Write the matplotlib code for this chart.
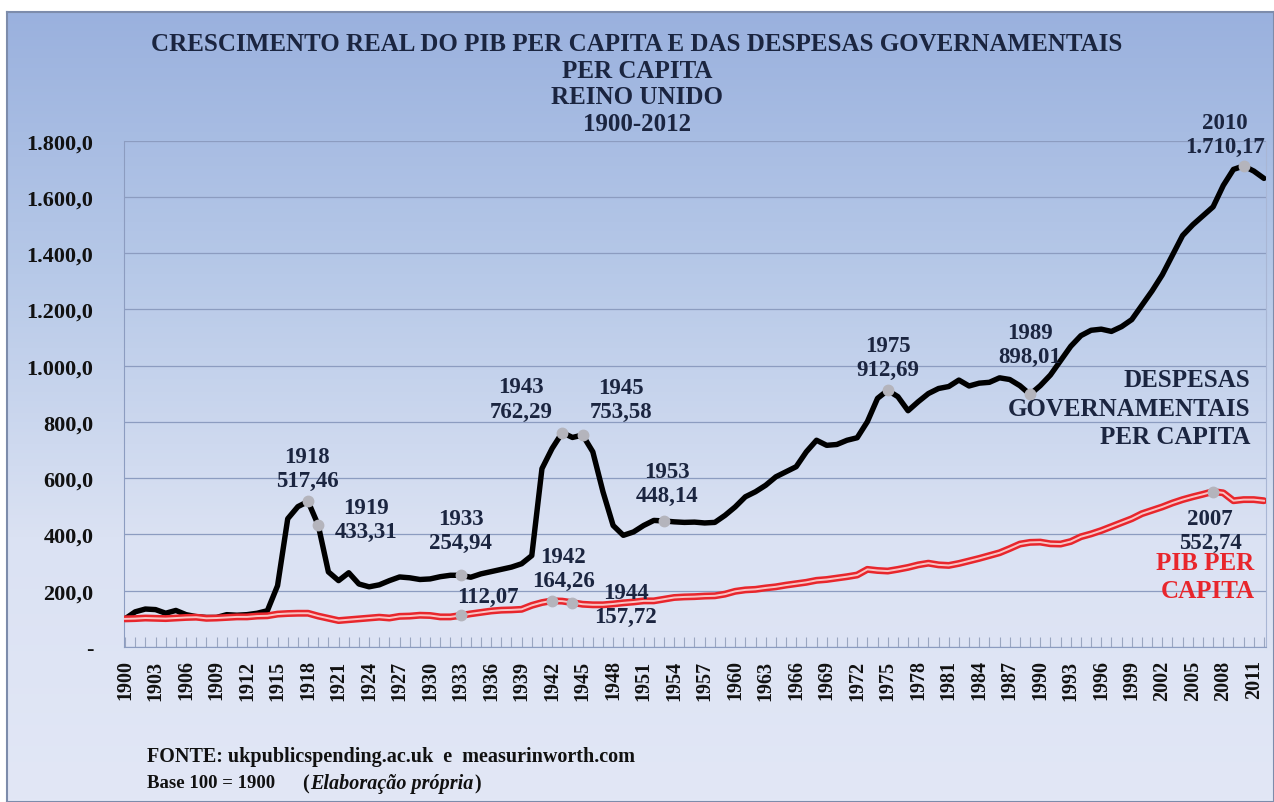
import numpy as np
import matplotlib.pyplot as plt
from matplotlib.colors import LinearSegmentedColormap
from matplotlib.ticker import FuncFormatter, MultipleLocator

# Dados (base 100 = 1900)
anos = list(range(1900, 2013))

despesas = [
    100, 125, 135, 133, 120, 130, 115, 108, 105, 105,      # 1900-1909
    115, 113, 115, 120, 129, 218, 456, 499, 517.46, 433.31,  # 1910-1919
    267, 236, 264, 224, 214, 221, 236, 249, 246, 240,      # 1920-1929
    242, 250, 255, 254.94, 248, 260, 268, 276, 284, 296,   # 1930-1939
    325, 634, 706, 762.29, 745, 753.58, 694, 552, 432, 397,  # 1940-1949
    409, 432, 450, 448.14, 445, 443, 444, 441, 443, 468,   # 1950-1959
    498, 534, 552, 575, 605, 623, 641, 694, 735, 717,      # 1960-1969
    720, 735, 744, 801, 884, 912.69, 890, 840, 872, 901,   # 1970-1979
    919, 926, 949, 928, 938, 941, 957, 951, 929, 898.01,   # 1980-1989
    929, 967, 1018, 1069, 1107, 1126, 1130, 1122, 1139, 1164,  # 1990-1999
    1215, 1266, 1323, 1393, 1463, 1501, 1533, 1565, 1641, 1698,  # 2000-2009
    1710.17, 1692, 1666,                                   # 2010-2012
]

pib = [
    100, 101, 103, 102, 101, 103, 105, 106, 102, 103,      # 1900-1909
    105, 107, 107, 110, 111, 117, 119, 120, 120, 110,      # 1910-1919
    102, 94, 97, 100, 103, 106, 103, 109, 110, 113,        # 1920-1929
    112, 107, 107, 112.07, 118, 123, 128, 131, 132, 134,   # 1930-1939
    148, 158, 164.26, 163, 157.72, 152, 150, 150, 153, 157,  # 1940-1949
    160, 164, 164, 170, 176, 178, 179, 181, 182, 188,      # 1950-1959
    198, 203, 205, 210, 214, 220, 225, 230, 237, 240,      # 1960-1969
    245, 250, 256, 276, 272, 270, 276, 283, 292, 298,      # 1970-1979
    292, 290, 297, 306, 315, 325, 335, 350, 366, 372,      # 1980-1989
    373, 367, 366, 375, 392, 402, 414, 428, 442, 456,      # 1990-1999
    474, 486, 498, 512, 524, 534, 543, 552.74, 548, 520,   # 2000-2009
    524, 524, 520,                                         # 2010-2012
]

# pontos destacados: (ano, série, texto, deslocamento em px, alinhamento vertical)
destaques = [
    (1918, "d", "1918\n517,46", (-1, 10), "bottom"),
    (1919, "d", "1919\n433,31", (48, 6), "center"),
    (1933, "d", "1933\n254,94", (0, 22), "bottom"),
    (1943, "d", "1943\n762,29", (-41, 11), "bottom"),
    (1945, "d", "1945\n753,58", (38, 13), "bottom"),
    (1953, "d", "1953\n448,14", (3, 15), "bottom"),
    (1975, "d", "1975\n912,69", (0, 10), "bottom"),
    (1989, "d", "1989\n898,01", (0, 27), "bottom"),
    (2010, "d", "2010\n1.710,17", (-19, 9), "bottom"),
    (1933, "p", "112,07", (27, 9), "bottom"),
    (1942, "p", "1942\n164,26", (11, 10), "bottom"),
    (1944, "p", "1944\n157,72", (53, -2), "center"),
    (2007, "p", "2007\n552,74", (-3, -16), "top"),
]

serif = "Liberation Serif"
navy = "#1b2540"
vermelho = "#e8262c"

fig = plt.figure(figsize=(12.74, 8.03), dpi=100)

# fundo em degradê do gráfico
bg = fig.add_axes([7 / 1274, 0, 1 - 7 / 1274, (803 - 13) / 803])
cmap = LinearSegmentedColormap.from_list("fundo", ["#9ab1de", "#b7c9e8", "#dbe2f3", "#e2e7f6"])
grad = np.linspace(0, 1, 256).reshape(-1, 1)
bg.imshow(grad, aspect="auto", cmap=cmap, extent=[0, 1, 0, 1], origin="upper")
bg.set_xlim(0, 1)
bg.set_ylim(0, 1)
bg.set_xticks([])
bg.set_yticks([])
for s in bg.spines.values():
    s.set_color("#7d8cab")
    s.set_linewidth(1.5)

ax = fig.add_axes([124 / 1274, (803 - 648) / 803, (1266 - 124) / 1274, (648 - 141.7) / 803])
ax.patch.set_alpha(0)

ax.plot(anos, despesas, color="black", lw=3.9, solid_capstyle="round", zorder=4)
ax.plot(anos, pib, color=vermelho, lw=5.0, solid_capstyle="round", zorder=4)
ax.plot(anos, pib, color="#f9c4c4", lw=1.4, zorder=5)

for ano, serie, texto, (dx, dy), va in destaques:
    dados = despesas if serie == "d" else pib
    v = dados[anos.index(ano)]
    ax.plot(ano, v, "o", ms=7.5, color="#b4b4bc", zorder=6)
    ax.annotate(texto, (ano, v), xytext=(dx, dy), textcoords="offset pixels",
                ha="center", va=va, fontsize=16.5, fontweight="bold",
                family=serif, color=navy, linespacing=1.2, zorder=7)

ax.set_xlim(1899.9, 2012.2)
ax.set_ylim(0, 1800)
ax.yaxis.set_major_locator(MultipleLocator(200))
ax.yaxis.set_major_formatter(FuncFormatter(
    lambda v, p: "-" if v == 0 else f"{v:,.1f}".replace(",", "X").replace(".", ",").replace("X", ".")))
ax.set_xticks(anos[::3])
ax.set_xticks(anos, minor=True)
ax.tick_params(axis="x", which="both", direction="in", length=7, color="#9aa6c0", width=0.8)
ax.tick_params(axis="x", which="major", labelsize=14.5, labelrotation=90, pad=9)
ax.tick_params(axis="y", length=0, pad=22, labelsize=16)
for lab in ax.get_xticklabels() + ax.get_yticklabels():
    lab.set_family(serif)
    lab.set_fontweight("bold")
    lab.set_color("#111111")
ax.grid(axis="y", color="#8c9cc0", lw=0.9)
ax.spines["top"].set_visible(False)
ax.spines["left"].set_color("#8c9cc0")
ax.spines["right"].set_color("#a9b6d4")
ax.spines["bottom"].set_color("#8c9cc0")
ax.set_axisbelow(True)

# rótulos das séries
ax.text(0.986, 0.472, "DESPESAS\nGOVERNAMENTAIS\nPER CAPITA", transform=ax.transAxes,
        ha="right", va="center", fontsize=18, fontweight="bold", family=serif, color=navy,
        linespacing=1.3)
ax.text(0.990, 0.139, "PIB PER\nCAPITA", transform=ax.transAxes,
        ha="right", va="center", fontsize=18, fontweight="bold", family=serif, color=vermelho,
        linespacing=1.3)

fig.text(0.5, 1 - 84.5 / 803, "CRESCIMENTO REAL DO PIB PER CAPITA E DAS DESPESAS GOVERNAMENTAIS\n"
         "PER CAPITA\nREINO UNIDO\n1900-2012", ha="center", va="center", fontsize=18,
         fontweight="bold", family=serif, color=navy, linespacing=1.2)

fig.text(147 / 1274, 1 - 757 / 803, "FONTE: ukpublicspending.ac.uk  e  measurinworth.com",
         ha="left", va="center", fontsize=14.5, fontweight="bold", family=serif, color="#111111")
fig.text(147 / 1274, 1 - 784 / 803, "Base 100 = 1900", ha="left", va="center",
         fontsize=13.5, fontweight="bold", family=serif, color="#111111")

# "(Elaboração própria)" com o miolo em itálico
fig.canvas.draw()
r = fig.canvas.get_renderer()
x0 = 302
for pedaco, estilo in [("(", "normal"), ("Elaboração própria", "italic"), (")", "normal")]:
    t = fig.text(x0 / 1274, 1 - 784 / 803, pedaco, ha="left", va="center", fontsize=14.5,
                 fontweight="bold", style=estilo, family=serif, color="#111111")
    x0 = t.get_window_extent(r).x1 + 1

fig.savefig("out.png", dpi=100)
